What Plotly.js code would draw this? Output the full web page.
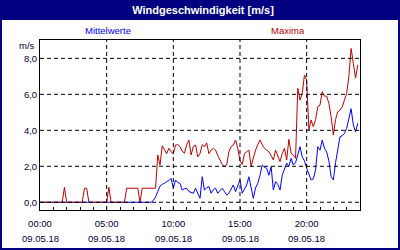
<!DOCTYPE html>
<html><head><meta charset="utf-8">
<script src="https://cdn.plot.ly/plotly-3.0.1.min.js"></script>
<style>html,body{margin:0;padding:0;background:#fff}#chart{width:400px;height:250px}</style>
</head><body><div id="chart"></div>
<script>
const stepMinutes = 10;
const mittelwerte = [
0,0,0,0,0,0,0,0,0,0,
0,0,0,0,0,0,0,0,0,0,
0,0,0,0,0,0,0,0,0,0,
0,0,0,0,0,0,0,0,0,0,
0,0,0,0,0,0,0,0,0,0,
0,0.1,0.3,0.6,0.9,1.0,1.05,1.15,1.2,1.33,
0.78,1.24,1.1,1.05,0.68,0.75,0.78,0.6,0.55,0.5,
0.78,0.5,0.22,1.42,0.68,0.8,0.87,0.5,0.7,0.78,
0.5,0.65,0.78,0.6,0.4,0.5,0.7,0.96,0.59,0.9,
1.24,0.5,0.7,0.96,1.42,0.8,0.22,0.8,1.05,1.5,
2.07,1.95,1.89,1.5,1.98,0.68,1.15,1.0,0.68,1.5,
1.8,2.17,2.0,2.44,2.07,2.2,2.63,3.09,2.53,2.3,
1.89,1.6,1.24,1.3,1.8,3.09,2.9,3.46,3.0,2.8,
2.3,1.42,1.24,2.2,3.0,3.64,3.7,3.83,4.11,4.6,
5.2,4.3,3.92,4.39];
const maxima = [
0,0,0,0,0,0,0,0,0,0,
0,0.83,0,0,0,0,0,0,0,0,
0.78,0.78,0,0,0,0,0,0,0,0,
0,0.83,0,0,0,0,0,0,0,0.78,
0.78,0.78,0.78,0.78,0.78,0,0.78,0.78,0.78,0.78,
0.78,0.78,0.78,2.63,2.07,3.14,2.9,2.7,3.0,2.8,
2.7,3.18,3.2,3.1,2.85,2.72,3.2,3.46,2.63,3.1,
3.18,2.53,2.7,3.2,3.09,3.3,2.7,2.9,3.0,2.9,
2.6,2.3,2.1,2.0,2.07,2.8,3.1,3.18,3.46,3.0,
2.3,2.1,2.7,2.8,2.9,2.0,2.53,2.9,3.2,3.46,
3.2,3.0,2.9,2.81,2.6,2.35,2.9,2.6,2.26,2.7,
3.0,2.35,3.5,2.72,2.63,2.44,6.33,5.68,6.05,7.07,
6.79,4.02,4.57,4.2,4.6,5.31,5.4,6.15,5.9,5.9,
5.5,4.76,3.74,4.6,5.03,5.13,5.3,5.68,6.05,7.0,
8.55,7.72,6.9,7.63];
const xTickHours = [0,5,10,15,20];
const xTickTimes = ["00:00","05:00","10:00","15:00","20:00"];
const xTickDates = ["09.05.18","09.05.18","09.05.18","09.05.18","09.05.18"];
const yTickVals = [0,2,4,6,8];
const yTickText = ["0,0","2,0","4,0","6,0","8,0"];
const seriesNames = ["Mittelwerte","Maxima"];
const titleText = "Windgeschwindigkeit [m/s]";
const unitText = "m/s";

const hours = mittelwerte.map((_, i) => i * stepMinutes / 60);
const FONT = "Liberation Sans, Arial, sans-serif";
const TXT = "#000033";
const NAVY = "#000080";

const traces = [
  {x: hours, y: mittelwerte, type: "scatter", mode: "lines", name: seriesNames[0],
   line: {color: "#0000ff", width: 1}, hoverinfo: "skip"},
  {x: hours, y: maxima, type: "scatter", mode: "lines", name: seriesNames[1],
   line: {color: "#c00000", width: 1}, hoverinfo: "skip"}
];

const shapes = [];
shapes.push({type: "rect", xref: "paper", yref: "paper", x0: -0.125, x1: 1.125,
  y0: (210 - 20) / 170, y1: 210 / 170, fillcolor: NAVY, line: {width: 0}, layer: "below"});
shapes.push({type: "rect", xref: "paper", yref: "paper", x0: (1 - 40) / 320, x1: (399 - 40) / 320,
  y0: (210 - 249) / 170, y1: (210 - 1) / 170, fillcolor: "rgba(0,0,0,0)", line: {color: NAVY, width: 2}, layer: "above"});
yTickVals.forEach(v => shapes.push({type: "line", xref: "paper", yref: "y", x0: 0, x1: 1, y0: v, y1: v,
  line: {color: "#000", width: 1, dash: "4px,3px"}, layer: "above"}));
xTickHours.slice(1).forEach(h => shapes.push({type: "line", xref: "x", yref: "paper", x0: h, x1: h, y0: 0, y1: 1,
  line: {color: "#000", width: 1, dash: "4px,3px"}, layer: "above"}));

const annotations = [
  {text: seriesNames[0], xref: "paper", yref: "paper", x: (108 - 40) / 320, y: (210 - 31) / 170,
   showarrow: false, font: {family: FONT, size: 9.5, color: "#0000ff"}, xanchor: "center", yanchor: "middle"},
  {text: seriesNames[1], xref: "paper", yref: "paper", x: (288 - 40) / 320, y: (210 - 31) / 170,
   showarrow: false, font: {family: FONT, size: 9.5, color: "#c00000"}, xanchor: "center", yanchor: "middle"},
  {text: unitText, xref: "paper", yref: "paper", x: (37 - 40) / 320, y: (210 - 45) / 170,
   showarrow: false, font: {family: FONT, size: 9.5, color: TXT}, xanchor: "right", yanchor: "middle"}
];
xTickHours.forEach((h, k) => annotations.push({text: xTickDates[k], xref: "x", yref: "paper", x: h,
  y: (210 - 238) / 170, showarrow: false, font: {family: FONT, size: 9.5, color: TXT}, xanchor: "center", yanchor: "middle"}));

const layout = {
  width: 400, height: 250,
  margin: {l: 40, r: 40, t: 40, b: 40, pad: 0},
  paper_bgcolor: "#fff", plot_bgcolor: "#fff",
  showlegend: false,
  title: {text: "<b>" + titleText + "</b>", font: {family: FONT, size: 11, color: "#fff"},
          xref: "container", yref: "container", x: 203 / 400, y: 1 - 10 / 250, xanchor: "center", yanchor: "middle"},
  xaxis: {range: [0, 24], tickvals: xTickHours, ticktext: xTickTimes, ticks: "inside", ticklen: 3, tickcolor: "#000",
          ticklabelstandoff: 5,
          showline: true, mirror: true, linecolor: "#000", linewidth: 1, showgrid: false, zeroline: false,
          tickfont: {family: FONT, size: 9.5, color: TXT}, fixedrange: true,
          minor: {dtick: 1, tick0: 0, ticks: "inside", ticklen: 3, tickcolor: "#000", showgrid: false}},
  yaxis: {range: [-0.43, 9.02], tickvals: yTickVals, ticktext: yTickText, ticks: "", showline: true, mirror: true,
          linecolor: "#000", linewidth: 1, showgrid: false, zeroline: false,
          tickfont: {family: FONT, size: 9.5, color: TXT}, fixedrange: true},
  shapes: shapes,
  annotations: annotations
};
Plotly.newPlot("chart", traces, layout, {staticPlot: true, displayModeBar: false});
</script></body></html>
